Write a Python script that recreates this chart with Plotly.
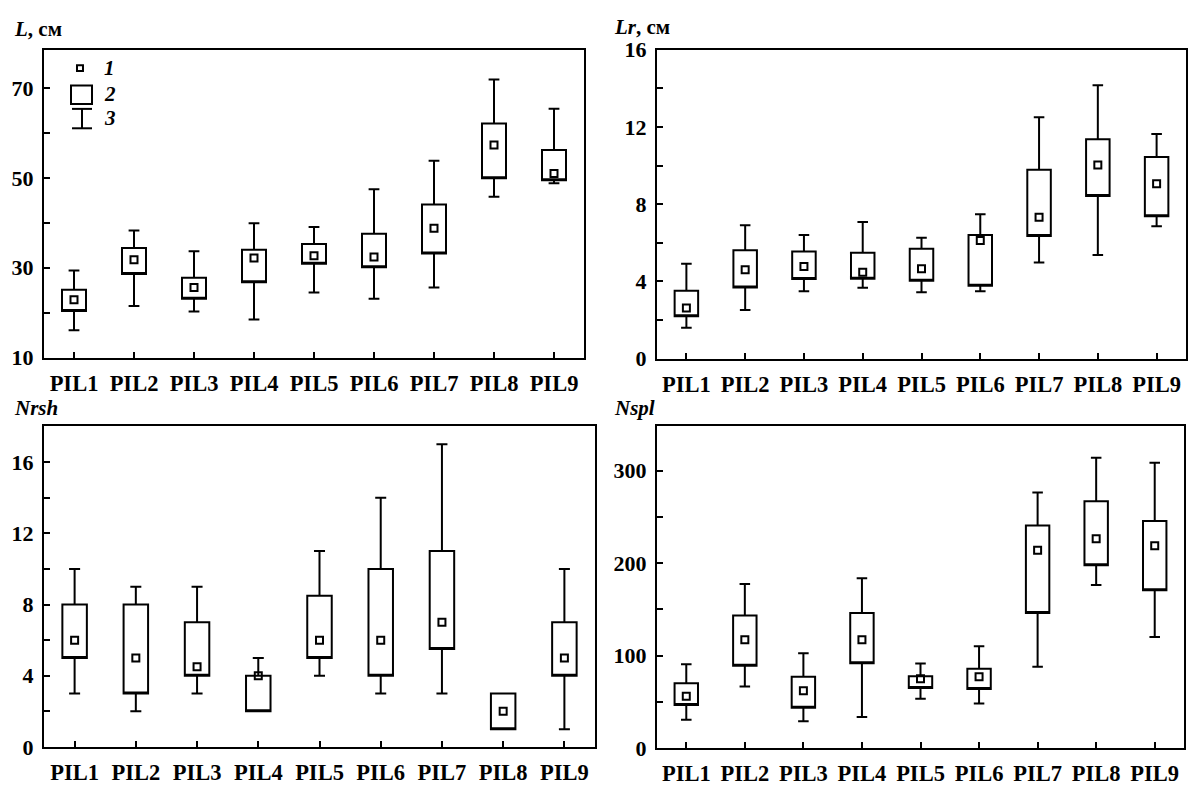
import plotly.graph_objects as go

categories = ["PIL1", "PIL2", "PIL3", "PIL4", "PIL5", "PIL6", "PIL7", "PIL8", "PIL9"]

# L, cm
L_mean = [22.9, 31.8, 25.6, 32.2, 32.7, 32.4, 38.8, 57.3, 51.0]
L_q1 = [20.4, 28.6, 23.1, 26.8, 30.9, 30.1, 33.2, 49.9, 49.5]
L_q3 = [25.1, 34.4, 27.8, 34.0, 35.3, 37.6, 44.1, 62.1, 56.2]
L_lo = [16.1, 21.5, 20.3, 18.5, 24.5, 23.1, 25.6, 45.8, 48.8]
L_hi = [29.4, 38.3, 33.7, 39.9, 39.1, 47.5, 53.8, 71.9, 65.4]

# Lr, cm
Lr_mean = [2.62, 4.6, 4.77, 4.48, 4.66, 6.12, 7.33, 10.03, 9.06]
Lr_q1 = [2.2, 3.69, 4.13, 4.14, 4.03, 3.78, 6.36, 8.42, 7.38]
Lr_q3 = [3.52, 5.62, 5.55, 5.49, 5.70, 6.41, 9.78, 11.36, 10.45]
Lr_lo = [1.6, 2.52, 3.49, 3.67, 3.44, 3.49, 4.98, 5.37, 6.86]
Lr_hi = [4.92, 6.91, 6.41, 7.08, 6.26, 7.48, 12.5, 14.16, 11.64]

# Nrsh
Nr_mean = [6, 5, 4.5, 4, 6, 6, 7, 2, 5]
Nr_q1 = [5, 3, 4, 2, 5, 4, 5.5, 1, 4]
Nr_q3 = [8, 8, 7, 4, 8.5, 10, 11, 3, 7]
Nr_lo = [3, 2, 3, 2, 4, 3, 3, 1, 1]
Nr_hi = [10, 9, 9, 5, 11, 14, 17, 3, 10]

# Nspl
Ns_mean = [56, 117, 62, 117, 75, 77, 214, 226.5, 218.8]
Ns_q1 = [46.5, 89, 43.4, 91.7, 64.8, 63.7, 146, 197.8, 170.8]
Ns_q3 = [70, 143.5, 77, 146, 77.7, 85.8, 240.8, 267, 245.7]
Ns_lo = [30.5, 66.5, 29, 33.6, 53.2, 48, 88, 176.4, 120]
Ns_hi = [90.7, 177.5, 102.5, 183.8, 91.4, 110, 276.5, 314, 308.7]

FONT = "Liberation Serif"
W, H = 1188, 790

panels = [
    dict(ax="", mean=L_mean, q1=L_q1, q3=L_q3, lo=L_lo, hi=L_hi,
         xd=[44 / W, 584 / W], yd=[1 - 357 / H, 1 - 39 / H],
         yr=[10, 78.5], tick0=10, dtick=20, minor=10),
    dict(ax="2", mean=Lr_mean, q1=Lr_q1, q3=Lr_q3, lo=Lr_lo, hi=Lr_hi,
         xd=[657 / W, 1186 / W], yd=[1 - 358 / H, 1 - 39 / H],
         yr=[0, 16], tick0=0, dtick=4, minor=2),
    dict(ax="3", mean=Nr_mean, q1=Nr_q1, q3=Nr_q3, lo=Nr_lo, hi=Nr_hi,
         xd=[44 / W, 595 / W], yd=[1 - 759 / H, 1 - 428 / H],
         yr=[0, 18], tick0=0, dtick=4, minor=2),
    dict(ax="4", mean=Ns_mean, q1=Ns_q1, q3=Ns_q3, lo=Ns_lo, hi=Ns_hi,
         xd=[657 / W, 1184 / W], yd=[1 - 760 / H, 1 - 428 / H],
         yr=[0, 348], tick0=0, dtick=100, minor=50),
]

fig = go.Figure()
layout = dict(width=W, height=H, margin=dict(l=0, r=0, t=0, b=0),
              paper_bgcolor="white", plot_bgcolor="white", showlegend=False,
              font=dict(family=FONT, color="black"))

for p in panels:
    xa, ya = "x" + p["ax"], "y" + p["ax"]
    fig.add_trace(go.Box(
        x=categories, q1=p["q1"], median=p["q1"], q3=p["q3"],
        lowerfence=p["lo"], upperfence=p["hi"],
        xaxis=xa, yaxis=ya, boxpoints=False,
        fillcolor="rgba(255,255,255,0)", line=dict(color="black", width=2),
        width=0.4, whiskerwidth=0.45, hoverinfo="skip"))
    fig.add_trace(go.Scatter(
        x=categories, y=p["mean"], mode="markers", xaxis=xa, yaxis=ya,
        marker=dict(symbol="square-open", size=7, color="black",
                    line=dict(width=2, color="black"))))
    layout["xaxis" + p["ax"]] = dict(
        domain=p["xd"], anchor=ya, type="category", range=[-0.5, 8.5],
        showline=True, mirror=True, linecolor="black", linewidth=2,
        ticks="inside", ticklen=6, tickwidth=1.5, tickcolor="black",
        showgrid=False, zeroline=False, ticklabelstandoff=4,
        tickfont=dict(family=FONT, size=22.5, weight="bold", color="black"))
    layout["yaxis" + p["ax"]] = dict(
        domain=p["yd"], anchor=xa, range=p["yr"], tickmode="linear",
        tick0=p["tick0"], dtick=p["dtick"],
        showline=True, mirror=True, linecolor="black", linewidth=2,
        ticks="inside", ticklen=6, tickwidth=1.5, tickcolor="black",
        showgrid=False, zeroline=False, ticklabelstandoff=4,
        minor=dict(dtick=p["minor"], ticks="inside", ticklen=6, tickwidth=1.5,
                   tickcolor="black", showgrid=False),
        tickfont=dict(family=FONT, size=22, weight="bold", color="black"))

titles = [
    ("<b><i>L</i>, см</b>", 12, 18),
    ("<b><i>Lr</i>, см</b>", 612, 16),
    ("<b><i>Nrsh</i></b>", 12, 409),
    ("<b><i>Nspl</i></b>", 612, 409),
]
annotations = []
for txt, px, py in titles:
    annotations.append(dict(text=txt, x=px / W, y=1 - py / H, xref="paper", yref="paper",
                            xanchor="left", yanchor="middle", showarrow=False,
                            font=dict(family=FONT, size=21, color="black")))

# legend inside first panel (domain coordinates)
legend_labels = ["1", "2", "3"]
leg_y = [0.940, 0.856, 0.777]
for lbl, ly in zip(legend_labels, leg_y):
    annotations.append(dict(text="<b><i>" + lbl + "</i></b>", x=0.122, y=ly,
                            xref="x domain", yref="y domain", xanchor="center",
                            yanchor="middle", showarrow=False,
                            font=dict(family=FONT, size=21, color="black")))
shapes = [
    dict(type="rect", xref="x domain", yref="y domain", x0=0.0611, x1=0.0722,
         y0=0.931, y1=0.950, line=dict(color="black", width=2)),
    dict(type="rect", xref="x domain", yref="y domain", x0=0.050, x1=0.0889,
         y0=0.824, y1=0.884, line=dict(color="black", width=2)),
    dict(type="line", xref="x domain", yref="y domain", x0=0.0519, x1=0.0889,
         y0=0.808, y1=0.808, line=dict(color="black", width=2)),
    dict(type="line", xref="x domain", yref="y domain", x0=0.0519, x1=0.0889,
         y0=0.745, y1=0.745, line=dict(color="black", width=2)),
    dict(type="line", xref="x domain", yref="y domain", x0=0.0704, x1=0.0704,
         y0=0.745, y1=0.808, line=dict(color="black", width=2)),
]
layout["annotations"] = annotations
layout["shapes"] = shapes
fig.update_layout(**layout)
fig.write_html("out.html")
